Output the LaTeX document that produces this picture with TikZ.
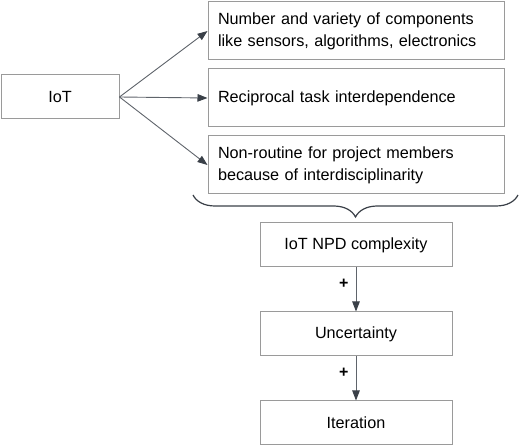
\documentclass[tikz,border=0pt]{standalone}
\usepackage{fontspec}
\setmainfont{Liberation Sans}
\usepackage{tikz}
\usetikzlibrary{positioning,arrows.meta,decorations.pathreplacing}
\definecolor{boxgray}{HTML}{9A9A9A}
\definecolor{linegray}{HTML}{5F646B}
\definecolor{headgray}{HTML}{3A4048}

\begin{document}
\begin{tikzpicture}[x=1pt, y=1pt,
        node distance=8pt,
        box/.style={rectangle, draw=boxgray, line width=1pt, text=black, font=\fontsize{16.2}{22}\selectfont, inner sep=0pt},
        causebox/.style={box, minimum width=118pt, minimum height=44pt},
        factorbox/.style={box, minimum width=296pt, minimum height=58pt, text width=276pt, align=left},
        chainbox/.style={box, minimum width=192pt, minimum height=44pt},
        link/.style={draw=linegray, line width=0.9pt, -{Triangle[length=10pt, width=7.5pt, fill=headgray, color=headgray]}},
        sign/.style={font=\fontsize{16}{16}\selectfont\bfseries, inner sep=0pt},
]
        \useasboundingbox (0,0) rectangle (520,-446);
        \node[causebox] (iot) at (60,-97) {IoT};
        \node[factorbox] (comp) at (356,-31) {Number and variety of components\\like sensors, algorithms, electronics};
        \node[factorbox] (recip) [below=of comp] {Reciprocal task interdependence};
        \node[factorbox] (nonroutine) [below=of recip] {Non-routine for project members\\because of interdisciplinarity};
        \node[chainbox] (npd) at (356,-245) {IoT NPD complexity};
        \node[chainbox] (uncert) [below=44pt of npd] {Uncertainty};
        \node[chainbox] (iter) [below=44pt of uncert] {Iteration};

        \draw[link] (iot.east) -- (comp.west);
        \draw[link] (iot.east) -- (recip.west);
        \draw[link] (iot.east) -- (nonroutine.west);
        \draw[link] (npd) -- node[sign, pos=0.37, left=7pt] {+} (uncert);
        \draw[link] (uncert) -- node[sign, pos=0.37, left=7pt] {+} (iter);

        \draw[headgray, line width=1.2pt, decorate, decoration={brace, mirror, amplitude=22pt}]
            (193,-195) -- (518,-195);
\end{tikzpicture}
\end{document}
